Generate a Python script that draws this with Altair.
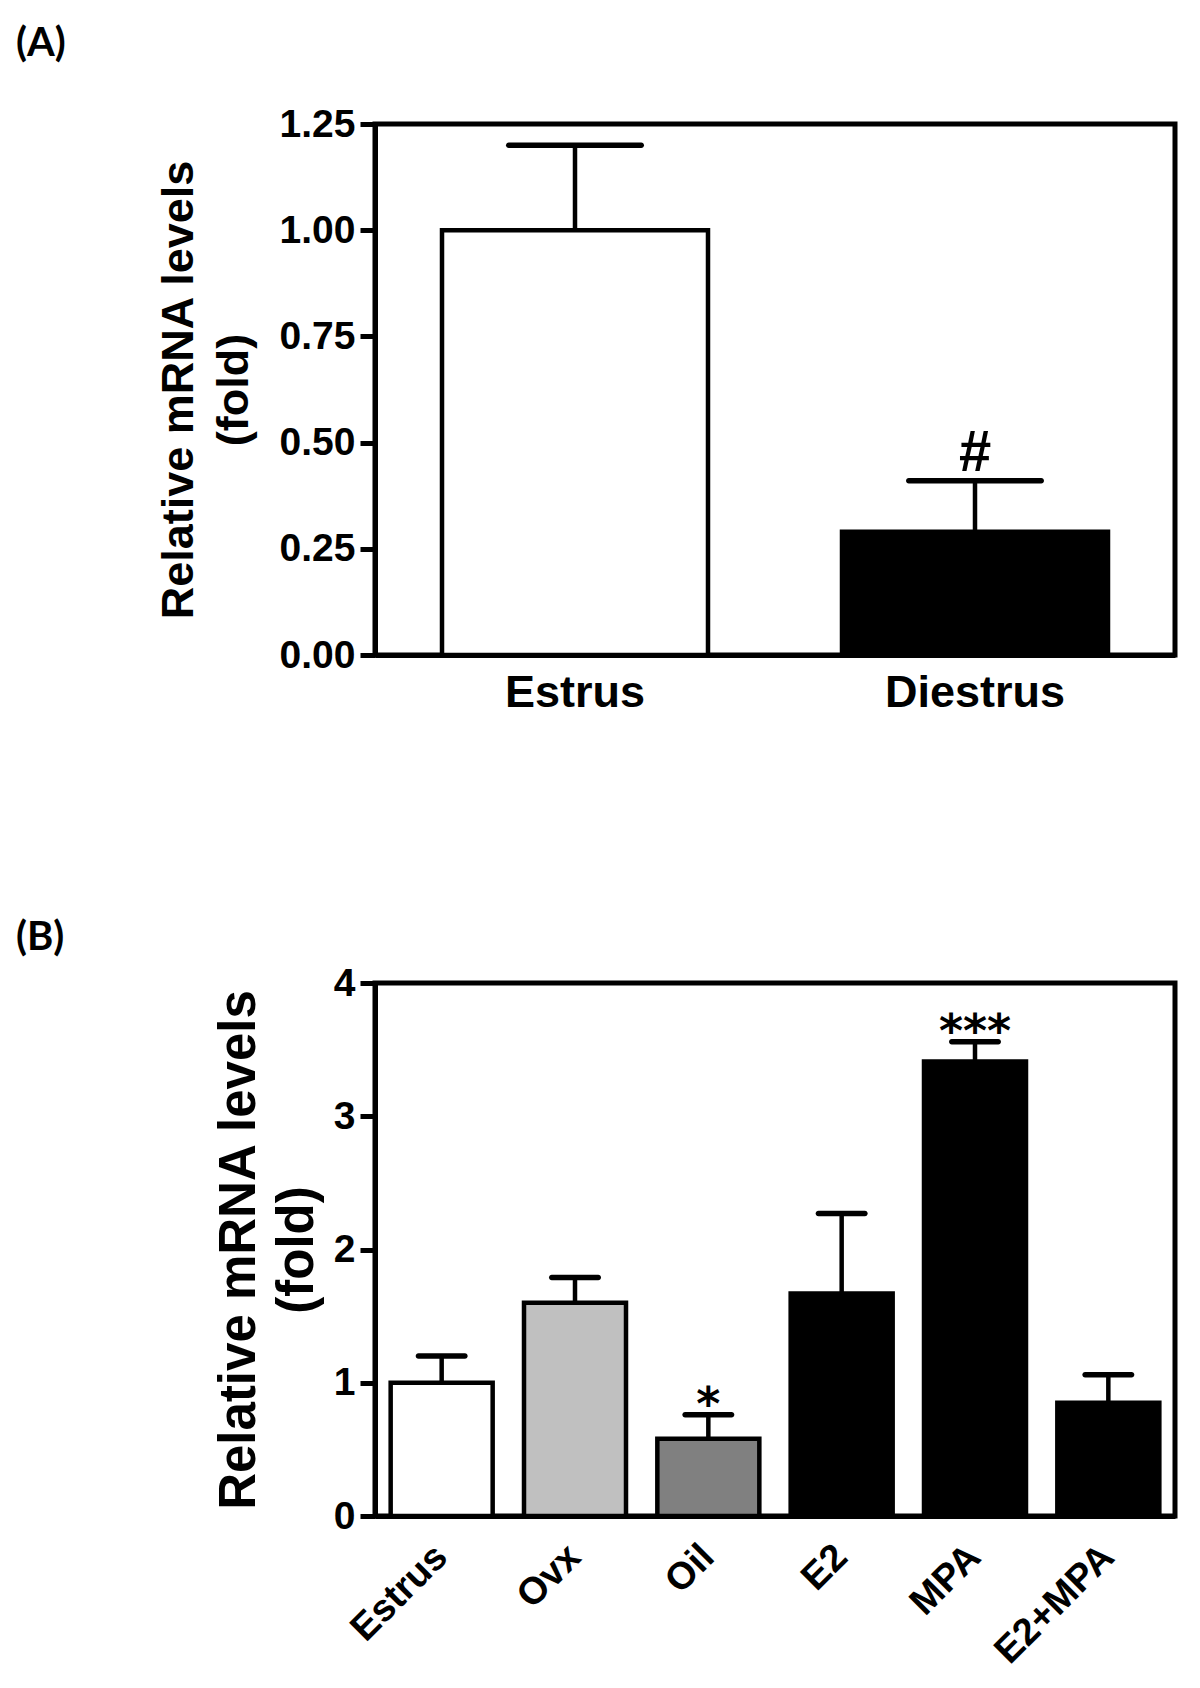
import altair as alt
import pandas as pd

# ---------------- data ----------------
cats_a = ["Estrus", "Diestrus"]
mean_a = [1.00, 0.29]
sem_a = [0.20, 0.12]
fill_a = ["#ffffff", "#000000"]
sig_a = ["", "#"]
ticks_a = [0, 0.25, 0.5, 0.75, 1.0, 1.25]

cats_b = ["Estrus", "Ovx", "Oil", "E2", "MPA", "E2+MPA"]
mean_b = [1.00, 1.60, 0.58, 1.67, 3.41, 0.85]
sem_b = [0.20, 0.19, 0.18, 0.60, 0.15, 0.21]
fill_b = ["#ffffff", "#c0c0c0", "#808080", "#000000", "#000000", "#000000"]
sig_b = ["", "", "*", "", "***", ""]
ticks_b = [0, 1, 2, 3, 4]

ytitle = ["Relative mRNA levels", "(fold)"]

FONT = "Liberation Sans, Arial, Helvetica, sans-serif"


def panel(cats, means, sems, fills, sigs, ticks, fmt, ymax, h, pin, pout, cap,
          xaxis, title_size, title_lh, title_x, label, label_offset,
          sig_font, sig_size, sig_dy):
    df = pd.DataFrame({"group": cats, "mean": means, "sem": sems,
                       "sig": sigs, "fill": fills})
    df["upper"] = df["mean"] + df["sem"]

    x = alt.X("group:N", sort=cats,
              scale=alt.Scale(paddingInner=pin, paddingOuter=pout),
              axis=xaxis)
    yscale = alt.Scale(domain=[0, ymax], nice=False, zero=True)
    yaxis = alt.Axis(values=ticks, format=fmt, title=ytitle,
                     titleFont=FONT, titleFontSize=title_size,
                     titleFontWeight="bold", titleLineHeight=title_lh,
                     titleX=title_x, titleY=h / 2, titleAngle=-90,
                     titleAlign="center", titleBaseline="alphabetic",
                     labelFont=FONT, labelFontSize=39, labelFontWeight="bold",
                     labelPadding=5, tickSize=15, tickWidth=5,
                     domainWidth=5, grid=False)

    def Y(field):
        return alt.Y(field, scale=yscale, axis=yaxis)

    base = alt.Chart(df)
    bars = base.mark_bar(stroke="black", strokeWidth=4.5).encode(
        x=x, y=Y("mean:Q"),
        fill=alt.Fill("fill:N", scale=None, legend=None))
    stems = base.mark_rule(color="black", strokeWidth=4.5).encode(
        x=x, y=Y("mean:Q"), y2="upper:Q")
    caps = base.mark_tick(color="black", size=cap, thickness=5.5,
                          cornerRadius=2.75, orient="horizontal",
                          opacity=1).encode(x=x, y=Y("upper:Q"))
    stars = base.mark_text(font=sig_font, fontSize=sig_size,
                           fontWeight="bold", baseline="alphabetic",
                           align="center", dy=sig_dy, color="black").encode(
        x=x, y=Y("upper:Q"), text="sig:N")

    return alt.layer(bars, stems, caps, stars).properties(
        width=800, height=h,
        title=alt.Title(label, anchor="start", frame="group", dx=-359,
                        fontSize=40, font="Lato, Liberation Sans, sans-serif",
                        fontWeight="bold", offset=label_offset,
                        baseline="alphabetic", color="black"))


xaxis_a = alt.Axis(title=None, labelAngle=0, ticks=False, tickSize=0,
                   labelFont=FONT, labelFontSize=45, labelFontWeight="bold",
                   labelPadding=15, labelBaseline="top", labelLimit=600,
                   domainWidth=5)
xaxis_b = alt.Axis(title=None, labelAngle=-45, ticks=False, tickSize=0,
                   labelFont=FONT, labelFontSize=38, labelFontWeight="bold",
                   labelAlign="right", labelBaseline="middle",
                   labelLimit=600, labelPadding=35, domainWidth=5)

panel_a = panel(cats_a, mean_a, sem_a, fill_a, sig_a, ticks_a, ".2f", 1.25,
                531, 0.335, 0.1675, 138, xaxis_a, 45, 55, -183, "(A)", -7,
                FONT, 58, -10)
panel_b = panel(cats_b, mean_b, sem_b, fill_b, sig_b, ticks_b, "d", 4,
                533, 0.235, 0.1175, 52, xaxis_b, 51, 58, -121, "(B)", -26,
                "DejaVu Sans, sans-serif", 46, 5)

chart = alt.vconcat(panel_a, panel_b, spacing=197).properties(
    padding={"left": 5, "top": 13, "right": 5, "bottom": 5}
).configure_view(
    stroke="black", strokeWidth=5
).configure_axis(
    domainColor="black", tickColor="black", labelColor="black",
    titleColor="black", grid=False
)

chart.save("out.html", embed_options={"renderer": "svg", "actions": False})
